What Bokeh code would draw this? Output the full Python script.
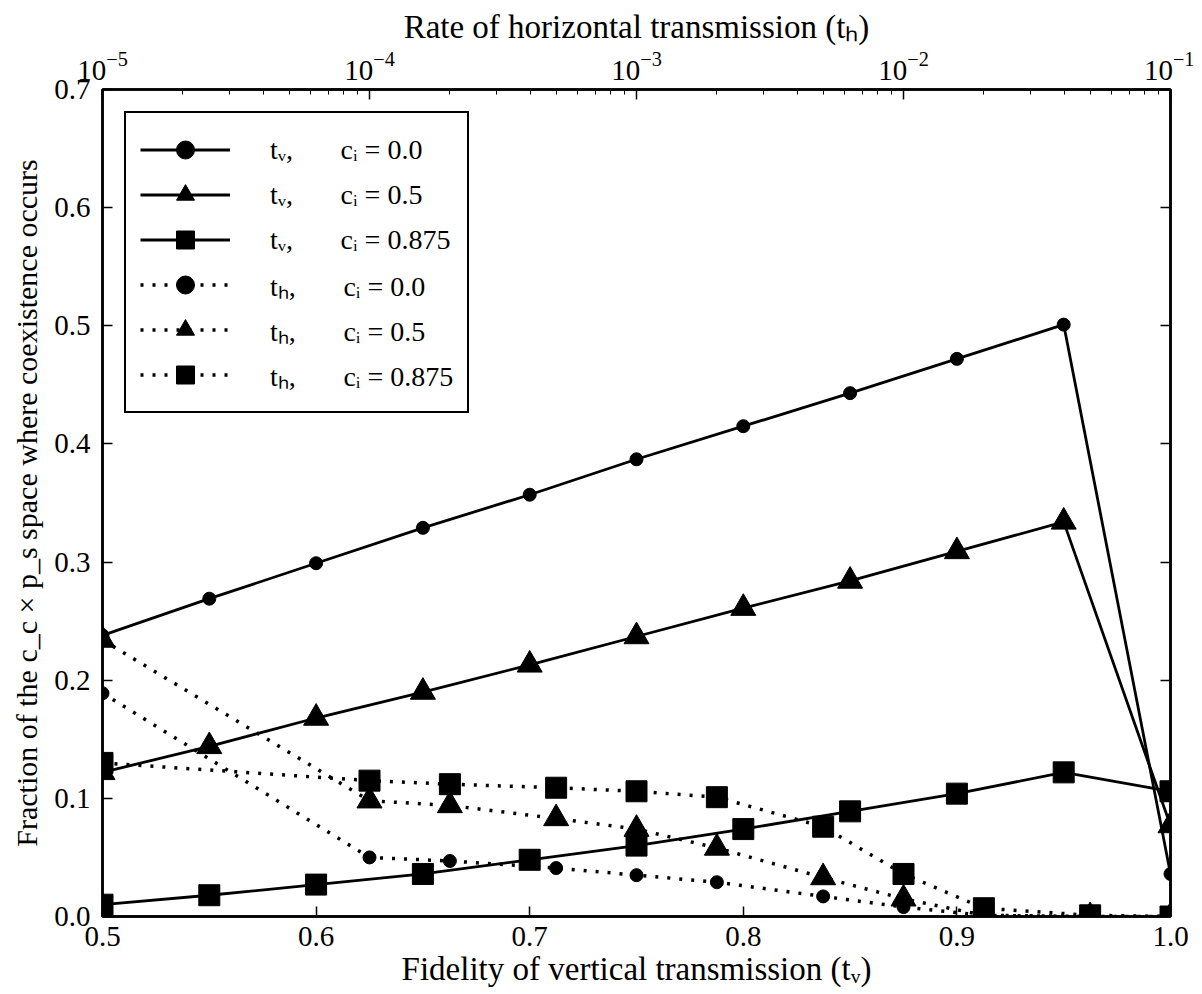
from bokeh.plotting import figure
from bokeh.models import (Range1d, LogScale, LogAxis, LinearAxis, Legend, LegendItem,
                          FixedTicker, LogTicker, PrintfTickFormatter)
from bokeh.embed import file_html
from bokeh.resources import INLINE

# ---------------- data ----------------
tv = [0.5, 0.55, 0.6, 0.65, 0.7, 0.75, 0.8, 0.85, 0.9, 0.95, 1.0]
th = [1e-5, 1e-4, 2e-4, 5e-4, 1e-3, 2e-3, 5e-3, 1e-2, 2e-2, 5e-2, 1e-1]

tv_ci_000 = [0.238, 0.269, 0.299, 0.329, 0.357, 0.387, 0.415, 0.443, 0.472, 0.501, 0.036]
tv_ci_050 = [0.122, 0.144, 0.168, 0.190, 0.213, 0.237, 0.261, 0.284, 0.309, 0.334, 0.077]
tv_ci_875 = [0.010, 0.018, 0.027, 0.036, 0.048, 0.060, 0.074, 0.089, 0.104, 0.122, 0.106]

th_ci_000 = [0.189, 0.050, 0.047, 0.041, 0.035, 0.029, 0.017, 0.008, 0.001, 0.000, 0.000]
th_ci_050 = [0.234, 0.098, 0.094, 0.083, 0.074, 0.058, 0.033, 0.015, 0.001, 0.000, 0.000]
th_ci_875 = [0.130, 0.115, 0.112, 0.109, 0.106, 0.101, 0.076, 0.036, 0.007, 0.001, 0.000]

y_ticks = [0.0, 0.1, 0.2, 0.3, 0.4, 0.5, 0.6, 0.7]
x_ticks = [0.5, 0.6, 0.7, 0.8, 0.9, 1.0]

GAP = "\u2003\u2002\u2009"
legend_labels = [
    "t\u1d65," + GAP + "c\u1d62 = 0.0",
    "t\u1d65," + GAP + "c\u1d62 = 0.5",
    "t\u1d65," + GAP + "c\u1d62 = 0.875",
    "t\u2095," + GAP + "c\u1d62 = 0.0",
    "t\u2095," + GAP + "c\u1d62 = 0.5",
    "t\u2095," + GAP + "c\u1d62 = 0.875",
]
x_label = "Fidelity of vertical transmission (t\u1d65)"
x2_label = "Rate of horizontal transmission (t\u2095)"
y_label = "Fraction of the c_c \u00d7 p_s space where coexistence occurs"

FONT = "Liberation Serif"
LBL = "33px"
YLBL = "30px"
TCK = "29px"
LEG = "28px"

# ---------------- figure ----------------
p = figure(width=1194, height=986, frame_width=1068, frame_height=827,
           x_range=Range1d(0.5, 1.0), y_range=Range1d(0.0, 0.7),
           output_backend="svg", toolbar_location=None,
           min_border_left=102, min_border_right=24, min_border_top=89, min_border_bottom=70)
p.extra_x_ranges = {"th": Range1d(1e-5, 1e-1)}
p.extra_x_scales = {"th": LogScale()}

p.xgrid.grid_line_color = None
p.ygrid.grid_line_color = None
p.outline_line_color = "black"
p.outline_line_width = 2.5
p.background_fill_color = "white"
p.border_fill_color = "white"

def style_axis(ax):
    ax.axis_line_width = 2.5
    ax.axis_line_color = "black"
    ax.major_tick_in = 10
    ax.major_tick_out = 0
    ax.major_tick_line_width = 1.5
    ax.minor_tick_in = 5
    ax.minor_tick_out = 0
    ax.major_label_text_font = FONT
    ax.major_label_text_font_size = TCK
    ax.major_label_text_color = "black"
    ax.axis_label_text_font = FONT
    ax.axis_label_text_font_size = LBL
    ax.axis_label_text_font_style = "normal"
    ax.axis_label_text_color = "black"

xa = p.xaxis[0]
xa.ticker = FixedTicker(ticks=x_ticks)
xa.formatter = PrintfTickFormatter(format="%.1f")
xa.axis_label = x_label
style_axis(xa)
xa.minor_tick_line_color = None
xa.major_label_standoff = 10
xa.axis_label_standoff = 2

ya = p.yaxis[0]
ya.ticker = FixedTicker(ticks=y_ticks)
ya.formatter = PrintfTickFormatter(format="%.1f")
ya.axis_label = y_label
style_axis(ya)
ya.axis_label_text_font_size = YLBL
ya.minor_tick_line_color = None
ya.major_label_standoff = 12
ya.axis_label_standoff = 8

top = LogAxis(x_range_name="th", ticker=LogTicker(num_minor_ticks=10), axis_label=x2_label)
style_axis(top)
top.major_label_standoff = 10
top.axis_label_standoff = 4
p.add_layout(top, "above")

right = LinearAxis(ticker=FixedTicker(ticks=y_ticks))
style_axis(right)
right.minor_tick_line_color = None
right.major_label_text_color = None
right.major_label_text_font_size = "1px"
p.add_layout(right, "right")

# ---------------- series ----------------
series = [
    (tv, tv_ci_000, "circle", 13, "solid", None),
    (tv, tv_ci_050, "triangle", 25, "solid", None),
    (tv, tv_ci_875, "square", 21, "solid", None),
    (th, th_ci_000, "circle", 13, "3 9", "th"),
    (th, th_ci_050, "triangle", 25, "3 9", "th"),
    (th, th_ci_875, "square", 21, "3 9", "th"),
]

items = []
for (xs, ys, mk, sz, dash, rng), lab in zip(series, legend_labels):
    kw = {"x_range_name": rng} if rng else {}
    lw = 2.8 if dash == "solid" else 3.5
    lr = p.line(xs, ys, line_color="black", line_width=lw, line_dash=dash, **kw)
    sr = p.scatter(xs, ys, marker=mk, size=sz, fill_color="black", line_color="black", **kw)
    items.append(LegendItem(label=lab, renderers=[lr, sr]))

legend = Legend(items=items, location="top_left")
legend.border_line_color = "black"
legend.border_line_alpha = 1.0
legend.border_line_width = 2.5
legend.background_fill_color = "white"
legend.background_fill_alpha = 1
legend.label_text_font = FONT
legend.label_text_font_size = LEG
legend.label_text_color = "black"
legend.glyph_width = 90
legend.glyph_height = 45
legend.label_height = 45
legend.label_standoff = 40
legend.padding = 14
legend.spacing = 0
legend.margin = 22
p.add_layout(legend)

open("out.html", "w").write(file_html(p, INLINE))
